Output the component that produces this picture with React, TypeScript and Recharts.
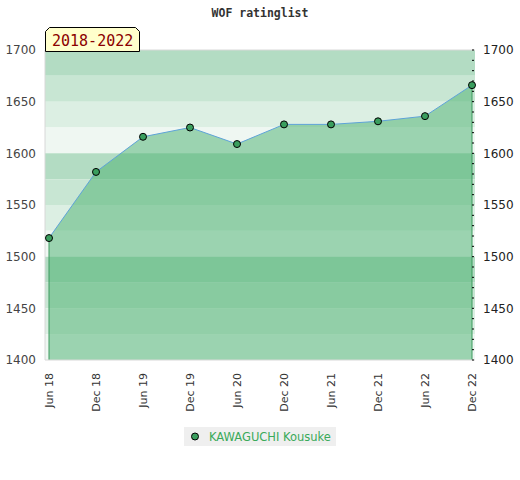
import React from 'react';
import { ComposedChart, Area, Line, XAxis, YAxis, ReferenceArea, ReferenceLine } from 'recharts';

// half-yearly rating snapshots
const periods = ['Jun 18', 'Dec 18', 'Jun 19', 'Dec 19', 'Jun 20', 'Dec 20', 'Jun 21', 'Dec 21', 'Jun 22', 'Dec 22'];
const ratings = [1518, 1582, 1616, 1625, 1609, 1628, 1628, 1631, 1636, 1666];
const yTicks = [1400, 1450, 1500, 1550, 1600, 1650, 1700];
const playerName = 'KAWAGUCHI Kousuke';
const chartTitle = 'WOF ratinglist';
const rangeLabel = '2018-2022';

const Y_MIN = 1400;
const Y_MAX = 1700;

const minorTicks: number[] = [];
for (let v = Y_MIN; v <= Y_MAX; v += 10) minorTicks.push(v);
const bandEdges: number[] = [];
for (let v = Y_MAX; v > Y_MIN; v -= 25) bandEdges.push(v);

// stripe colours, top to bottom, repeating every 100 points
const bandColors = ['#b3dcc3', '#c8e6d3', '#dcefe3', '#eff7f2'];
const markerFill = '#3a9e5e';

const data = periods.map((p, i) => ({ period: p, rating: ratings[i] }));

const XTick = ({ x, y, payload }: any) => (
  <text
    x={x}
    y={y + 11}
    transform={`rotate(-90, ${x}, ${y + 11})`}
    textAnchor="end"
    dy="0.35em"
    fontSize={11}
    fill="#333"
  >
    {payload.value}
  </text>
);

const RightTick = ({ x, y, payload }: any) => (
  <g>
    <line x1={x - 3} x2={x - 1} y1={y} y2={y} stroke="#000" />
    {payload.value % 50 === 0 && (
      <text x={x + 8} y={y} dy="0.355em" textAnchor="start" fontSize={12} fill="#222">
        {payload.value}
      </text>
    )}
  </g>
);

export default function App() {
  return (
    <div style={{ position: 'absolute', left: 0, top: 0, width: 520, height: 480, fontFamily: 'DejaVu Sans', background: '#fff' }}>
      <div
        style={{
          position: 'absolute', top: 6, left: 0, width: 520, textAlign: 'center',
          fontFamily: 'DejaVu Sans Mono', fontWeight: 'bold', fontSize: 11.5, color: '#333',
        }}
      >
        {chartTitle}
      </div>

      <ComposedChart width={520} height={480} data={data} margin={{ top: 50, right: 0, bottom: 70, left: 0 }}>
        <XAxis
          dataKey="period"
          scale="point"
          padding={{ left: 4, right: 3 }}
          interval={0}
          height={50}
          tickLine={false}
          tickSize={0}
          axisLine={{ stroke: '#d8d8d8' }}
          tick={<XTick />}
        />
        {/* full-width helper axis so the stripes reach the plot edges */}
        <XAxis xAxisId="full" type="number" orientation="top" height={0} hide />
        <YAxis
          yAxisId="left"
          domain={[Y_MIN, Y_MAX]}
          ticks={yTicks}
          interval={0}
          width={45}
          tickLine={false}
          tickSize={0}
          tickMargin={9}
          axisLine={{ stroke: '#d8d8d8' }}
          tick={{ fontSize: 12, fill: '#444' }}
        />
        <YAxis
          yAxisId="right"
          orientation="right"
          domain={[Y_MIN, Y_MAX]}
          ticks={minorTicks}
          interval={0}
          width={45}
          tickLine={false}
          tickSize={0}
          tickMargin={0}
          axisLine={false}
          tick={<RightTick />}
        />
        {bandEdges.map((top, i) => (
          <ReferenceArea
            key={top}
            xAxisId="full"
            yAxisId="left"
            y1={top - 25}
            y2={top}
            fill={bandColors[i % bandColors.length]}
            fillOpacity={1}
            stroke="none"
          />
        ))}
        <ReferenceLine xAxisId="full" yAxisId="left" y={Y_MAX} stroke="#d8d8d8" />
        <Area
          yAxisId="left"
          type="linear"
          dataKey="rating"
          stroke="#5ea3d8"
          strokeWidth={1}
          fill="#48b06d"
          fillOpacity={0.5}
          dot={{ r: 3.5, fill: markerFill, stroke: '#000', strokeWidth: 1, fillOpacity: 1 }}
          activeDot={false}
          isAnimationActive={false}
        />
        {/* same series bound to the right scale so that axis is drawn */}
        <Line yAxisId="right" dataKey="rating" stroke="none" dot={false} activeDot={false} legendType="none" isAnimationActive={false} />
        <ReferenceLine
          yAxisId="left"
          segment={[{ x: periods[0], y: Y_MIN }, { x: periods[0], y: ratings[0] }]}
          stroke="#3c9a5f"
        />
        <ReferenceLine
          yAxisId="left"
          segment={[{ x: periods[periods.length - 1], y: Y_MIN }, { x: periods[periods.length - 1], y: ratings[ratings.length - 1] }]}
          stroke="#3c9a5f"
        />
      </ComposedChart>

      <svg style={{ position: 'absolute', left: 45, top: 27 }} width={96} height={25}>
        <polygon points="0.5,24.5 0.5,4.5 4.5,0.5 90.5,0.5 94.5,4.5 94.5,24.5" fill="#ffffcc" stroke="#000" />
        <text x={7} y={19} fontFamily="DejaVu Sans Mono" fontSize={15} fill="#8b0000">
          {rangeLabel}
        </text>
      </svg>

      <div
        style={{
          position: 'absolute', left: 184, top: 427, width: 152, height: 19, background: '#efefef',
          display: 'flex', alignItems: 'center', fontSize: 11.5, color: '#3aaa5a', whiteSpace: 'nowrap',
        }}
      >
        <svg width={25} height={19}>
          <circle cx={11} cy={9.5} r={3.5} fill={markerFill} stroke="#000" />
        </svg>
        <span>{playerName}</span>
      </div>
    </div>
  );
}
